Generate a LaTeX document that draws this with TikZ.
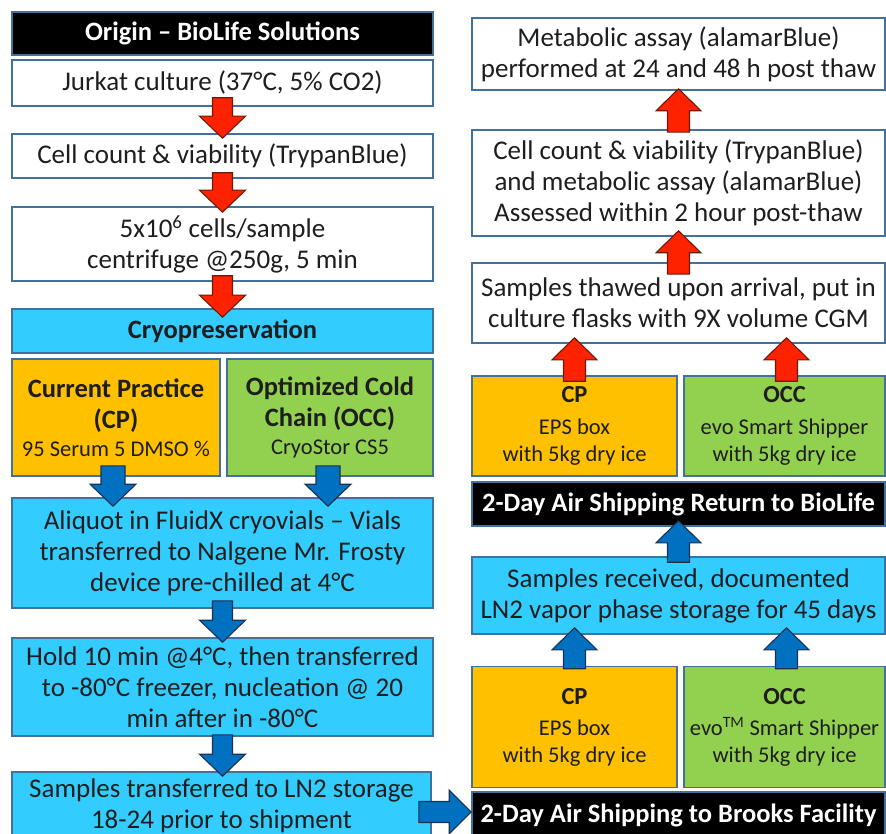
\documentclass[tikz,border=0pt]{standalone}
\usepackage{fontspec}
\setmainfont{Carlito}
\usetikzlibrary{calc}
\definecolor{cyanbox}{HTML}{33CCFF}
\definecolor{goldbox}{HTML}{FFC000}
\definecolor{greenbox}{HTML}{92D050}
\definecolor{edgeblue}{HTML}{41719C}
\definecolor{redarr}{HTML}{FF2200}
\definecolor{redline}{HTML}{6E1A0A}
\definecolor{bluearr}{HTML}{0070C0}
\definecolor{blueline}{HTML}{1F3050}
\definecolor{txt}{HTML}{1E1E1E}
\tikzset{
  box/.style={draw=edgeblue, line width=1.6pt, inner sep=0pt, align=center, text=txt,
    font=\fontsize{27}{31}\selectfont},
  whitebox/.style={box, fill=white},
  cyanb/.style={box, fill=cyanbox},
  goldb/.style={box, fill=goldbox},
  greenb/.style={box, fill=greenbox},
  headbox/.style={box, fill=black, text=white, font=\fontsize{26.5}{30}\selectfont\bfseries},
  redarrow/.style={fill=redarr, draw=redline, line width=1.1pt, line join=miter},
  bluearrow/.style={fill=bluearr, draw=blueline, line width=1.1pt, line join=miter},
}
\newcommand{\titleL}{\bfseries\fontsize{26.5}{33}\selectfont}
\newcommand{\titleR}{\bfseries\fontsize{24.5}{30}\selectfont}
\newcommand{\subtxt}{\mdseries\fontsize{22.5}{27}\selectfont}
% vertical block arrow: #1 style, #2 start, #3 tip, #4 shaft half, #5 head half, #6 signed head length
\newcommand{\vblock}[6]{%
  \path[#1] let \p1=#2, \p2=#3 in
    (\x1-#4,\y1) -- (\x1+#4,\y1) -- (\x1+#4,\y2#6) -- (\x1+#5,\y2#6) -- (\x1,\y2)
    -- (\x1-#5,\y2#6) -- (\x1-#4,\y2#6) -- cycle;}
\newcommand{\downblock}[5]{\vblock{#1}{#2}{#3}{#4}{#5}{+22pt}}
\newcommand{\upblock}[5]{\vblock{#1}{#2}{#3}{#4}{#5}{-22pt}}
\begin{document}
\begin{tikzpicture}[x=1pt,y=-1pt]
\useasboundingbox (0,0) rectangle (886,834);
\clip (0,0) rectangle (886,834);
\fill[white] (0,0) rectangle (886,834);
% ---------------- left column ----------------
\node[headbox, minimum width=421pt, minimum height=43pt] (origin) at (222.5,33.5) {Origin -- BioLife Solutions};
\node[whitebox, minimum width=421pt, minimum height=46pt] (jur) at (222.5,83) {Jurkat culture (37°C, 5\% CO2)};
\node[whitebox, minimum width=421pt, minimum height=44pt] (cell) at (222.5,156) {Cell count \& viability (TrypanBlue)};
\node[whitebox, minimum width=421pt, minimum height=74pt] (five) at (222.5,244) {5x10\textsuperscript{6} cells/sample\\centrifuge @250g, 5 min};
\node[cyanb, minimum width=421pt, minimum height=44pt, font=\fontsize{26.5}{30}\selectfont\bfseries] (cryo) at (222.5,331) {Cryopreservation};
\node[goldb, minimum width=208pt, minimum height=117pt] (cpl) at (116,417.5) {\titleL Current Practice\\\titleL (CP)\\[-3pt]\subtxt 95 Serum 5 DMSO \%};
\node[greenb, minimum width=206pt, minimum height=117pt] (occl) at (330,417.5) {\titleL Optimized Cold\\\titleL Chain (OCC)\\[-3pt]\subtxt CryoStor CS5};
\node[cyanb, minimum width=421pt, minimum height=110pt] (aliq) at (222.5,553) {Aliquot in FluidX cryovials -- Vials\\transferred to Nalgene Mr. Frosty\\device pre-chilled at 4°C};
\node[cyanb, minimum width=421pt, minimum height=98pt] (hold) at (222.5,687) {Hold 10 min @4°C, then transferred\\to -80°C freezer, nucleation @ 20\\min after in -80°C};
\node[cyanb, minimum width=419pt, minimum height=68pt] (samp) at (221.5,806) {Samples transferred to LN2 storage\\18-24 prior to shipment};
% ---------------- right column ----------------
\node[whitebox, minimum width=413pt, minimum height=72pt] (metab) at (678.5,54) {Metabolic assay (alamarBlue)\\performed at 24 and 48 h post thaw};
\node[whitebox, minimum width=413pt, minimum height=106pt] (cellr) at (678.5,183) {Cell count \& viability (TrypanBlue)\\and metabolic assay (alamarBlue)\\Assessed within 2 hour post-thaw};
\node[whitebox, minimum width=413pt, minimum height=80pt] (thaw) at (678.5,303) {Samples thawed upon arrival, put in\\culture flasks with 9X volume CGM};
\node[goldb, minimum width=205pt, minimum height=100pt] (cpr1) at (574.5,426) {\titleR CP\\[1pt]\subtxt EPS box\\[-4pt]\subtxt with 5kg dry ice};
\node[greenb, minimum width=201pt, minimum height=100pt] (occr1) at (784.5,426) {\titleR OCC\\[1pt]\subtxt evo Smart Shipper\\[-4pt]\subtxt with 5kg dry ice};
\node[headbox, minimum width=413pt, minimum height=44pt] (ret) at (678.5,504) {2-Day Air Shipping Return to BioLife};
\node[cyanb, minimum width=413pt, minimum height=77pt] (recv) at (678.5,595.5) {Samples received, documented\\LN2 vapor phase storage for 45 days};
\node[goldb, minimum width=205pt, minimum height=121pt] (cpr2) at (574.5,727) {\titleR CP\\[0pt]\subtxt EPS box\\[-4pt]\subtxt with 5kg dry ice};
\node[greenb, minimum width=201pt, minimum height=121pt] (occr2) at (784.5,727) {\titleR OCC\\[0pt]\subtxt evo\textsuperscript{TM} Smart Shipper\\[-4pt]\subtxt with 5kg dry ice};
\node[headbox, minimum width=413pt, minimum height=46pt] (brooks) at (678.5,815) {2-Day Air Shipping to Brooks Facility};
% ---------------- arrows: left ----------------
\downblock{redarrow}{([yshift=9pt]jur.south)}{([yshift=-5pt]cell.north)}{10pt}{23pt}
\downblock{redarrow}{([yshift=6pt]cell.south)}{([yshift=-6pt]five.north)}{10pt}{23pt}
\downblock{redarrow}{([yshift=6pt]five.south)}{([yshift=-9pt]cryo.north)}{10pt}{23pt}
\downblock{bluearrow}{([xshift=-3pt,yshift=11pt]cpl.south)}{([yshift=-9pt]aliq.north)}{12pt}{23pt}
\downblock{bluearrow}{([xshift=-2pt,yshift=11pt]occl.south)}{([yshift=-9pt]aliq.north)}{12pt}{23pt}
\downblock{bluearrow}{([yshift=8pt]aliq.south)}{([yshift=-5pt]hold.north)}{10pt}{23pt}
\downblock{bluearrow}{([yshift=2pt]hold.south)}{([yshift=-5pt]samp.north)}{10pt}{23pt}
% ---------------- arrows: right ----------------
\upblock{redarrow}{([yshift=-3pt]cellr.north)}{([yshift=2pt]metab.south)}{11pt}{22.5pt}
\upblock{redarrow}{([yshift=-12pt]thaw.north)}{([yshift=6pt]cellr.south)}{11pt}{22.5pt}
\upblock{redarrow}{([yshift=-6pt]cpr1.north)}{([yshift=6pt]thaw.south)}{11pt}{22.5pt}
\upblock{redarrow}{([xshift=2pt,yshift=-6pt]occr1.north)}{([yshift=6pt]thaw.south)}{11pt}{22.5pt}
\upblock{bluearrow}{([yshift=-6pt]recv.north)}{([yshift=6pt]ret.south)}{11pt}{22.5pt}
\upblock{bluearrow}{([yshift=-3pt]cpr2.north)}{([yshift=7pt]recv.south)}{11pt}{22.5pt}
\upblock{bluearrow}{([xshift=2pt,yshift=-3pt]occr2.north)}{([yshift=7pt]recv.south)}{11pt}{22.5pt}
% horizontal arrow
\path[bluearrow] let \p1=([xshift=-13pt]samp.east), \p2=(brooks.west) in
  (\x1,\y2+13.5pt) -- (\x2-22pt,\y2+13.5pt) -- (\x2-22pt,\y2+25pt) -- (\x2,\y2+3pt)
  -- (\x2-22pt,\y2-19pt) -- (\x2-22pt,\y2-7.5pt) -- (\x1,\y2-7.5pt) -- cycle;
\end{tikzpicture}
\end{document}
